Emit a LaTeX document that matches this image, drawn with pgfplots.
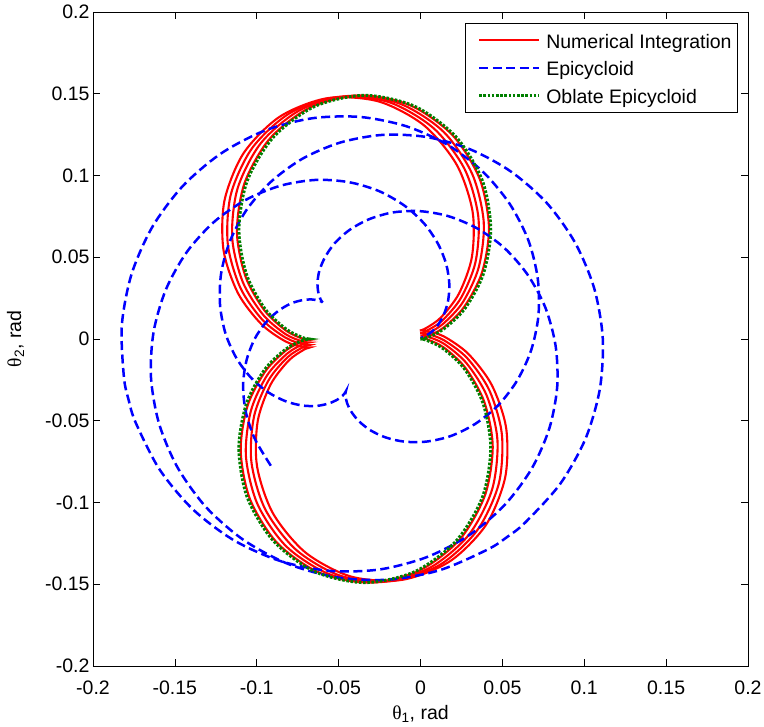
\documentclass[border=0pt]{standalone}
\usepackage{pgfplots}
\pgfplotsset{compat=1.18}
\usepackage{fontspec}
\setmainfont{Liberation Sans}
\newfontfamily\thetafont{Liberation Serif}
\definecolor{mred}{rgb}{1,0,0}
\definecolor{mblue}{rgb}{0,0,1}
\definecolor{mgreen}{rgb}{0,0.5,0}
\begin{document}
\begin{tikzpicture}
\begin{axis}[
  at={(0,0)}, anchor=south west,
  width=655bp, height=654bp, scale only axis,
  xmin=-0.2, xmax=0.2, ymin=-0.2, ymax=0.2,
  xtick={-0.2,-0.15,-0.1,-0.05,0,0.05,0.1,0.15,0.2},
  xticklabels={-0.2,-0.15,-0.1,-0.05,0,0.05,0.1,0.15,0.2},
  ytick={-0.2,-0.15,-0.1,-0.05,0,0.05,0.1,0.15,0.2},
  yticklabels={-0.2,-0.15,-0.1,-0.05,0,0.05,0.1,0.15,0.2},
  tick align=inside, xtick pos=both, ytick pos=both,
  major tick length=7bp,
  tick style={black, line width=0.7bp},
  axis line style={black, line width=0.8bp},
  ticklabel style={font=\fontsize{19.5bp}{22bp}\selectfont},
  xticklabel style={yshift=-11bp},
  label style={font=\fontsize{19.5bp}{22bp}\selectfont},
  xlabel={{\thetafont θ}\textsubscript{1}, rad},
  ylabel={{\thetafont θ}\textsubscript{2}, rad},
  xlabel style={yshift=-4bp},
  ylabel style={yshift=14bp},
  legend style={
    at={(1,1)}, anchor=north east, xshift=-10bp, yshift=-11bp,
    draw=black, line width=0.8bp, fill=white,
    inner xsep=6bp, inner ysep=5bp,
    row sep=3.5bp,
    font=\fontsize{19.5bp}{22bp}\selectfont,
    nodes={inner sep=0pt, text height=20bp, text depth=4bp},
    /tikz/every odd column/.append style={column sep=5.5bp},
  },
  legend cell align=left,
  legend image code/.code={\path (0bp,5.5bp) (0bp,-1bp); \draw[#1] (6bp,0bp) -- (66bp,0bp);},
]
% Numerical integration: four slightly precessed passes
\addplot[mred, line width=2.1bp, smooth] coordinates {
(0.0000,0.0006) (0.0038,0.0014) (0.0139,0.0068) (0.0267,0.0197) (0.0376,0.0408) (0.0418,0.0683) (0.0361,0.0980) (0.0196,0.1246) (-0.0060,0.1428) (-0.0366,0.1490) (-0.0670,0.1418) (-0.0919,0.1227) (-0.1074,0.0955) (-0.1121,0.0656) (-0.1069,0.0383) (-0.0954,0.0176) (-0.0821,0.0051) (-0.0718,0.0001) (-0.0680,-0.0006) (-0.0718,-0.0014) (-0.0819,-0.0068) (-0.0947,-0.0197) (-0.1056,-0.0408) (-0.1098,-0.0683) (-0.1041,-0.0980) (-0.0876,-0.1246) (-0.0620,-0.1428) (-0.0314,-0.1490) (-0.0010,-0.1418) (0.0239,-0.1227) (0.0394,-0.0955) (0.0441,-0.0656) (0.0389,-0.0383) (0.0274,-0.0176) (0.0141,-0.0051) (0.0038,-0.0001) (0.0000,0.0006)
};
\addlegendentry{Numerical Integration}
\addplot[mred, line width=2.1bp, smooth, forget plot] coordinates {
(-0.0001,0.0021) (0.0037,0.0031) (0.0135,0.0090) (0.0258,0.0224) (0.0356,0.0440) (0.0386,0.0717) (0.0315,0.1011) (0.0139,0.1269) (-0.0125,0.1439) (-0.0434,0.1487) (-0.0734,0.1401) (-0.0974,0.1199) (-0.1117,0.0921) (-0.1150,0.0620) (-0.1086,0.0350) (-0.0961,0.0148) (-0.0823,0.0029) (-0.0718,-0.0016) (-0.0679,-0.0021) (-0.0717,-0.0031) (-0.0815,-0.0090) (-0.0938,-0.0224) (-0.1036,-0.0440) (-0.1066,-0.0717) (-0.0995,-0.1011) (-0.0819,-0.1269) (-0.0555,-0.1439) (-0.0246,-0.1487) (0.0054,-0.1401) (0.0294,-0.1199) (0.0437,-0.0921) (0.0470,-0.0620) (0.0406,-0.0350) (0.0281,-0.0148) (0.0143,-0.0029) (0.0038,0.0016) (-0.0001,0.0021)
};
\addplot[mred, line width=2.1bp, smooth, forget plot] coordinates {
(-0.0002,0.0037) (0.0035,0.0049) (0.0131,0.0111) (0.0247,0.0251) (0.0336,0.0471) (0.0353,0.0749) (0.0269,0.1040) (0.0080,0.1289) (-0.0191,0.1448) (-0.0501,0.1481) (-0.0797,0.1382) (-0.1027,0.1169) (-0.1158,0.0885) (-0.1177,0.0583) (-0.1101,0.0315) (-0.0967,0.0119) (-0.0824,0.0008) (-0.0717,-0.0033) (-0.0678,-0.0037) (-0.0715,-0.0049) (-0.0811,-0.0111) (-0.0927,-0.0251) (-0.1016,-0.0471) (-0.1033,-0.0749) (-0.0949,-0.1040) (-0.0760,-0.1289) (-0.0489,-0.1448) (-0.0179,-0.1481) (0.0117,-0.1382) (0.0347,-0.1169) (0.0478,-0.0885) (0.0497,-0.0583) (0.0421,-0.0315) (0.0287,-0.0119) (0.0144,-0.0008) (0.0037,0.0033) (-0.0002,0.0037)
};
\addplot[mred, line width=2.1bp, smooth, forget plot] coordinates {
(-0.0004,0.0052) (0.0033,0.0066) (0.0125,0.0132) (0.0235,0.0278) (0.0314,0.0502) (0.0318,0.0780) (0.0221,0.1066) (0.0021,0.1307) (-0.0256,0.1453) (-0.0568,0.1473) (-0.0859,0.1360) (-0.1080,0.1137) (-0.1197,0.0847) (-0.1203,0.0544) (-0.1115,0.0281) (-0.0972,0.0091) (-0.0824,-0.0015) (-0.0715,-0.0050) (-0.0676,-0.0052) (-0.0713,-0.0066) (-0.0805,-0.0132) (-0.0915,-0.0278) (-0.0994,-0.0502) (-0.0998,-0.0780) (-0.0901,-0.1066) (-0.0701,-0.1307) (-0.0424,-0.1453) (-0.0112,-0.1473) (0.0179,-0.1360) (0.0400,-0.1137) (0.0517,-0.0847) (0.0523,-0.0544) (0.0435,-0.0281) (0.0292,-0.0091) (0.0144,0.0015) (0.0035,0.0050) (-0.0004,0.0052)
};
% Epicycloid
\addplot[mblue, line width=2.5bp, dash pattern=on 9bp off 4.5bp, smooth] coordinates {
(-0.0914,-0.0775) (-0.1012,-0.0610) (-0.1068,-0.0441) (-0.1083,-0.0277) (-0.1062,-0.0129) (-0.1014,-0.0002) (-0.0947,0.0098) (-0.0871,0.0170) (-0.0794,0.0216) (-0.0724,0.0237) (-0.0667,0.0242) (-0.0627,0.0236) (-0.0603,0.0228) (-0.0597,0.0223)
(-0.0602,0.0229) (-0.0614,0.0251) (-0.0625,0.0290) (-0.0629,0.0347) (-0.0617,0.0420) (-0.0582,0.0502) (-0.0522,0.0588) (-0.0432,0.0668) (-0.0313,0.0733) (-0.0169,0.0774) (-0.0005,0.0782) (0.0171,0.0751) (0.0347,0.0676) (0.0513,0.0556) (0.0655,0.0392) (0.0763,0.0191) (0.0825,-0.0041) (0.0835,-0.0291) (0.0787,-0.0546) (0.0679,-0.0793) (0.0513,-0.1016) (0.0295,-0.1201) (0.0036,-0.1335) (-0.0253,-0.1410) (-0.0557,-0.1418) (-0.0859,-0.1357) (-0.1143,-0.1229) (-0.1394,-0.1038) (-0.1596,-0.0794) (-0.1740,-0.0510) (-0.1782,-0.0374) (-0.1811,-0.0235) (-0.1824,0.0083) (-0.1765,0.0395) (-0.1639,0.0683) (-0.1453,0.0934) (-0.1219,0.1134) (-0.0950,0.1275) (-0.0661,0.1350) (-0.0369,0.1358) (-0.0089,0.1302) (0.0165,0.1188) (0.0379,0.1025) (0.0545,0.0826) (0.0659,0.0603) (0.0716,0.0370) (0.0720,0.0141) (0.0675,-0.0071) (0.0589,-0.0256) (0.0472,-0.0408) (0.0333,-0.0520) (0.0186,-0.0593) (0.0040,-0.0627) (-0.0096,-0.0628) (-0.0213,-0.0602) (-0.0308,-0.0557) (-0.0378,-0.0501) (-0.0423,-0.0444) (-0.0448,-0.0393) (-0.0457,-0.0353) (-0.0458,-0.0328) (-0.0456,-0.0320)
(-0.0460,-0.0327) (-0.0475,-0.0346) (-0.0508,-0.0371) (-0.0560,-0.0394) (-0.0632,-0.0409) (-0.0721,-0.0407) (-0.0823,-0.0381) (-0.0930,-0.0326) (-0.1033,-0.0239) (-0.1123,-0.0119) (-0.1190,0.0031) (-0.1224,0.0206) (-0.1218,0.0398) (-0.1165,0.0595) (-0.1064,0.0787) (-0.0915,0.0960) (-0.0722,0.1102) (-0.0492,0.1201) (-0.0236,0.1248) (0.0033,0.1236) (0.0301,0.1161) (0.0551,0.1025) (0.0771,0.0832) (0.0944,0.0589) (0.1061,0.0309) (0.1113,0.0005) (0.1095,-0.0307) (0.1008,-0.0609) (0.0853,-0.0886) (0.0639,-0.1123) (0.0529,-0.1211) (0.0409,-0.1288) (0.0117,-0.1414) (-0.0195,-0.1472) (-0.0509,-0.1458) (-0.0810,-0.1375) (-0.1082,-0.1228) (-0.1310,-0.1028) (-0.1484,-0.0785) (-0.1597,-0.0516) (-0.1646,-0.0234) (-0.1630,0.0043) (-0.1555,0.0302) (-0.1429,0.0529) (-0.1262,0.0715) (-0.1065,0.0852) (-0.0853,0.0938) (-0.0639,0.0973) (-0.0436,0.0959) (-0.0252,0.0904) (-0.0097,0.0815) (0.0024,0.0704) (0.0108,0.0580) (0.0158,0.0454) (0.0176,0.0335) (0.0168,0.0231) (0.0141,0.0146) (0.0104,0.0082) (0.0065,0.0041) (0.0031,0.0018) (0.0008,0.0008) (0.0000,0.0007)
};
\addlegendentry{Epicycloid}
% Oblate epicycloid
\addplot[mgreen, line width=3bp, dash pattern=on 2.6bp off 1.6bp, smooth] coordinates {
(0.0000,0.0000) (0.0038,0.0008) (0.0140,0.0060) (0.0271,0.0186) (0.0383,0.0396) (0.0429,0.0670) (0.0378,0.0968) (0.0217,0.1236) (-0.0035,0.1423) (-0.0340,0.1490) (-0.0645,0.1423) (-0.0897,0.1236) (-0.1058,0.0968) (-0.1109,0.0670) (-0.1063,0.0396) (-0.0951,0.0186) (-0.0820,0.0060) (-0.0718,0.0008) (-0.0680,0.0000) (-0.0718,-0.0008) (-0.0820,-0.0060) (-0.0951,-0.0186) (-0.1063,-0.0396) (-0.1109,-0.0670) (-0.1058,-0.0968) (-0.0897,-0.1236) (-0.0645,-0.1423) (-0.0340,-0.1490) (-0.0035,-0.1423) (0.0217,-0.1236) (0.0378,-0.0968) (0.0429,-0.0670) (0.0383,-0.0396) (0.0271,-0.0186) (0.0140,-0.0060) (0.0038,-0.0008) (0.0000,0.0000)
};
\addlegendentry{Oblate Epicycloid}
\end{axis}
\pgfresetboundingbox
\path (-93bp,-61bp) rectangle (671bp,666bp);
\end{tikzpicture}
\end{document}
